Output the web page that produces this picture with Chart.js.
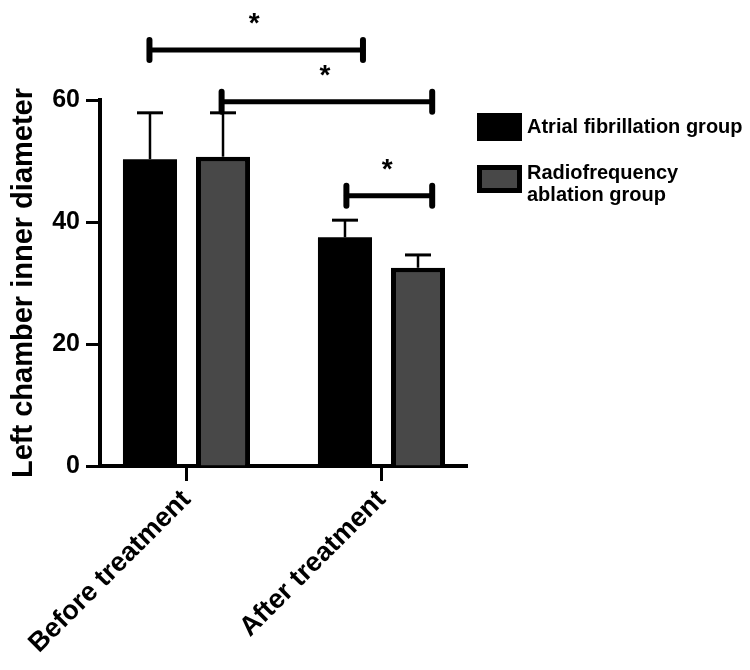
<!DOCTYPE html>
<html><head><meta charset="utf-8">
<script src="https://cdn.jsdelivr.net/npm/chart.js@4.4.1/dist/chart.umd.min.js"></script>
<style>html,body{margin:0;padding:0;background:#fff}canvas{display:block}</style>
</head><body>
<canvas id="c" width="750" height="670"></canvas>
<script>
// ---- data ----
const categories = ['Before treatment', 'After treatment'];
const seriesNames = ['Atrial fibrillation group', 'Radiofrequency ablation group'];
const legendLines = [['Atrial fibrillation group'], ['Radiofrequency', 'ablation group']];
const afValues = [50.3, 37.5];
const afErrors = [7.6, 2.8];
const rfValues = [50.7, 32.5];
const rfErrors = [7.2, 2.1];
const yTicks = [0, 20, 40, 60];
const yTitle = 'Left chamber inner diameter';
// significance brackets (x in category units, y in axis units)
const sigStart = [-0.19, 0.18, 0.82];
const sigEnd = [0.905, 1.26, 1.26];
const sigLevel = [68.2, 59.7, 44.3];
const sigMark = ['*', '*', '*'];

const FONT = "'Liberation Sans', Arial, Helvetica, sans-serif";
const GRAY = '#484848';
const errors = [afErrors, rfErrors];
const values = [afValues, rfValues];

const errorBars = {
  id: 'errorBars',
  afterDatasetsDraw(chart) {
    const ctx = chart.ctx, ys = chart.scales.y;
    ctx.save();
    ctx.strokeStyle = '#000';
    chart.data.datasets.forEach((ds, i) => {
      const meta = chart.getDatasetMeta(i);
      meta.data.forEach((el, j) => {
        const top = ys.getPixelForValue(values[i][j] + errors[i][j]);
        ctx.lineWidth = 2.5;
        ctx.beginPath(); ctx.moveTo(el.x, el.y); ctx.lineTo(el.x, top); ctx.stroke();
        ctx.lineWidth = 3;
        ctx.beginPath(); ctx.moveTo(el.x - 13, top); ctx.lineTo(el.x + 13, top); ctx.stroke();
      });
    });
    ctx.restore();
  }
};

const sigPlugin = {
  id: 'sig',
  afterDraw(chart) {
    const ctx = chart.ctx, xs = chart.scales.x, ys = chart.scales.y;
    ctx.save();
    ctx.strokeStyle = '#000'; ctx.fillStyle = '#000';
    ctx.lineCap = 'round';
    sigStart.forEach((s, k) => {
      const x1 = xs.getPixelForValue(s), x2 = xs.getPixelForValue(sigEnd[k]);
      const y = ys.getPixelForValue(sigLevel[k]);
      ctx.lineWidth = 5;
      ctx.beginPath(); ctx.moveTo(x1, y); ctx.lineTo(x2, y); ctx.stroke();
      ctx.lineWidth = 6;
      ctx.beginPath(); ctx.moveTo(x1, y - 10); ctx.lineTo(x1, y + 10); ctx.stroke();
      ctx.beginPath(); ctx.moveTo(x2, y - 10); ctx.lineTo(x2, y + 10); ctx.stroke();
      ctx.font = 'bold 28px ' + FONT;
      ctx.textAlign = 'center'; ctx.textBaseline = 'alphabetic';
      ctx.fillText(sigMark[k], (x1 + x2) / 2 - 2, y - 36 + 18);
    });
    ctx.restore();
  }
};

const legendPlugin = {
  id: 'customLegend',
  afterDraw(chart) {
    const ctx = chart.ctx, ca = chart.chartArea;
    const bx = ca.right + 10;
    const boxTops = [113, 165];
    ctx.save();
    chart.data.datasets.forEach((ds, i) => {
      const by = boxTops[i];
      ctx.fillStyle = '#000';
      ctx.fillRect(bx, by, 45, 28);
      if (i === 1) { ctx.fillStyle = ds.backgroundColor; ctx.fillRect(bx + 5, by + 5, 35, 18); }
      ctx.fillStyle = '#000';
      ctx.font = 'bold 20px ' + FONT;
      ctx.textAlign = 'left'; ctx.textBaseline = 'middle';
      const lines = legendLines[i];
      lines.forEach((t, k) => {
        const ty = lines.length === 1 ? by + 14 : by + 8 + k * 22;
        ctx.fillText(t, bx + 50, ty);
      });
    });
    ctx.restore();
  }
};

new Chart(document.getElementById('c'), {
  type: 'bar',
  data: {
    datasets: [
      { label: seriesNames[0], data: categories.map((c, i) => ({x: i, y: afValues[i]})),
        backgroundColor: '#000', borderWidth: 0 },
      { label: seriesNames[1], data: categories.map((c, i) => ({x: i, y: rfValues[i]})),
        backgroundColor: GRAY, borderColor: '#000', borderWidth: 5, borderSkipped: 'start' }
    ]
  },
  options: {
    responsive: false, animation: false,
    categoryPercentage: 0.749, barPercentage: 0.74,
    layout: { padding: { top: 100, right: 283, left: 0, bottom: 0 } },
    plugins: { legend: { display: false }, tooltip: { enabled: false } },
    scales: {
      x: {
        type: 'linear', min: -0.4436, max: 1.4385, position: 'bottom', offset: false,
        afterBuildTicks: s => { s.ticks = categories.map((c, i) => ({ value: i })); },
        afterFit: s => { s.height = 204; },
        grid: { offset: false, drawOnChartArea: false, drawTicks: true, tickLength: 15, tickWidth: 3, tickColor: '#000', color: '#000' },
        border: { display: true, color: '#000', width: 4 },
        ticks: {
          autoSkip: false, minRotation: 45, maxRotation: 45, padding: 3, color: '#000',
          font: { family: FONT, size: 27, weight: 'bold' },
          callback: v => categories[v]
        }
      },
      y: {
        min: 0, max: 60,
        afterBuildTicks: s => { s.ticks = yTicks.map(v => ({ value: v })); },
        afterFit: s => { s.width = 100; },
        grid: { drawOnChartArea: false, drawTicks: true, tickLength: 14, tickWidth: 3, tickColor: '#000', color: '#000' },
        border: { display: true, color: '#000', width: 4 },
        ticks: { padding: 6, color: '#000', font: { family: FONT, size: 25, weight: 'bold' } },
        title: { display: true, text: yTitle, color: '#000', padding: { top: 7, bottom: 0 },
                 font: { family: FONT, size: 29, weight: 'bold' } }
      }
    }
  },
  plugins: [errorBars, sigPlugin, legendPlugin]
});
</script>
</body></html>
